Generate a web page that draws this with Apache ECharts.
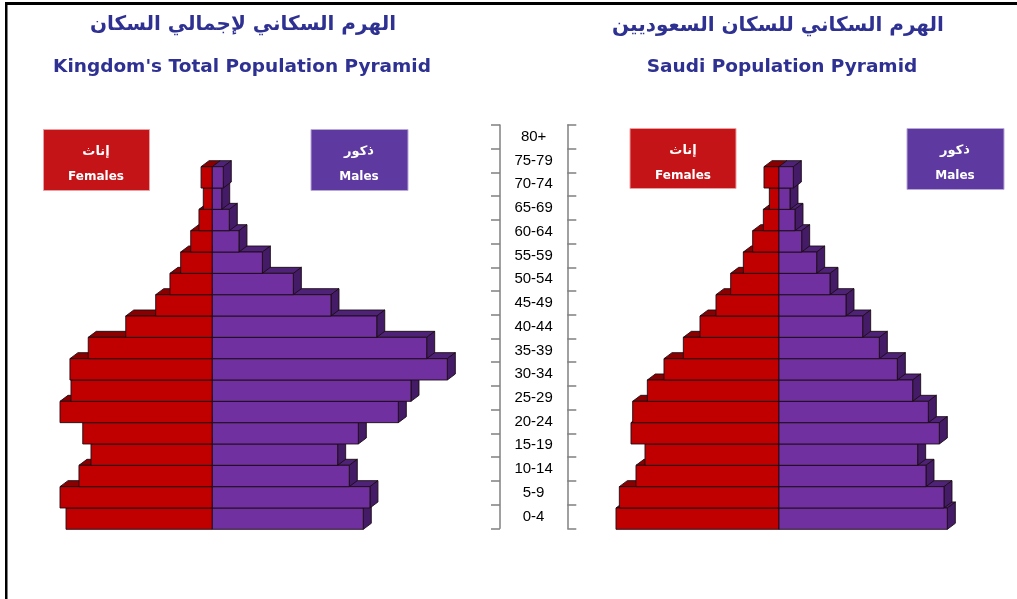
<!DOCTYPE html>
<html>
<head>
<meta charset="utf-8">
<script src="https://cdn.jsdelivr.net/npm/echarts@6/dist/echarts.min.js"></script>
<style>
html,body{margin:0;padding:0;background:#fff;}
#chart{width:1017px;height:599px;}
</style>
</head>
<body>
<div id="chart"></div>
<script>
// Age groups, bottom to top
const ageGroups = ['0-4','5-9','10-14','15-19','20-24','25-29','30-34','35-39','40-44','45-49','50-54','55-59','60-64','65-69','70-74','75-79','80+'];

// Kingdom's total population (thousands, estimated)
const totalFemales = [1119, 1165, 1020, 928, 991, 1165, 1081, 1089, 949, 662, 433, 324, 242, 165, 102, 69, 86];
const totalMales   = [1155, 1206, 1048, 959, 1117, 1423, 1520, 1798, 1640, 1258, 908, 620, 383, 204, 130, 72, 84];

// Saudi population (thousands, estimated)
const saudiFemales = [978, 958, 858, 804, 888, 878, 790, 690, 574, 474, 378, 290, 214, 158, 94, 58, 90];
const saudiMales   = [1010, 990, 882, 832, 962, 896, 802, 710, 602, 502, 402, 306, 226, 136, 96, 66, 86];

const titles = {
  leftAr: 'الهرم السكاني لإجمالي السكان',
  leftEn: "Kingdom's Total Population Pyramid",
  rightAr: 'الهرم السكاني للسكان السعوديين',
  rightEn: 'Saudi Population Pyramid',
  femalesAr: 'إناث', femalesEn: 'Females',
  malesAr: 'ذكور', malesEn: 'Males'
};

const DX = 8, DY = 6;
const C = {
  fFront: '#C00000', fTop: '#8A0000',
  mFront: '#7030A0', mTop: '#4E2377', mSide: '#431B66',
  stroke: '#1c0c14'
};

function renderBar(params, api) {
  const idx = api.value(0);
  const f = api.value(1), m = api.value(2);
  const c0 = api.coord([0, idx]);
  const cf = api.coord([-f, idx]);
  const cm = api.coord([m, idx]);
  const h = api.size([0, 1])[1];
  const top = c0[1] - h / 2, bot = c0[1] + h / 2;
  const x0 = c0[0], xf = cf[0], xm = cm[0];
  const st = (fill) => ({ fill: fill, stroke: C.stroke, lineWidth: 0.9 });
  return {
    type: 'group',
    children: [
      { type: 'polygon', shape: { points: [[xf, top], [xf + DX, top - DY], [x0 + DX, top - DY], [x0, top]] }, style: st(C.fTop) },
      { type: 'polygon', shape: { points: [[x0, top], [x0 + DX, top - DY], [xm + DX, top - DY], [xm, top]] }, style: st(C.mTop) },
      { type: 'polygon', shape: { points: [[xm, top], [xm + DX, top - DY], [xm + DX, bot - DY], [xm, bot]] }, style: st(C.mSide) },
      { type: 'rect', shape: { x: xf, y: top, width: x0 - xf, height: h }, style: st(C.fFront) },
      { type: 'rect', shape: { x: x0, y: top, width: xm - x0, height: h }, style: st(C.mFront) }
    ]
  };
}

const chart = echarts.init(document.getElementById('chart'), null, { renderer: 'canvas' });

function txt(text, cx, cy, size, weight, color, family) {
  return {
    text: text, left: cx, top: cy, textAlign: 'center', textVerticalAlign: 'middle', padding: 0, z: 20,
    textStyle: { fontSize: size, fontWeight: weight, color: color, fontFamily: family }
  };
}

const blue = '#2E3192';
const option = {
  backgroundColor: '#ffffff',
  animation: false,
  title: [
    txt(titles.leftAr, 243, 25, 20, 'bold', blue, 'DejaVu Sans'),
    txt(titles.leftEn, 242, 67, 18.5, 'bold', blue, 'DejaVu Sans'),
    txt(titles.rightAr, 778, 26, 20, 'bold', blue, 'DejaVu Sans'),
    txt(titles.rightEn, 782, 67, 18.5, 'bold', blue, 'DejaVu Sans'),
    txt(titles.femalesAr, 96, 152, 13, 'bold', '#fff', 'DejaVu Sans'),
    txt(titles.femalesEn, 96, 177, 12, 'bold', '#fff', 'DejaVu Sans'),
    txt(titles.malesAr, 359, 152, 13, 'bold', '#fff', 'DejaVu Sans'),
    txt(titles.malesEn, 359, 177, 12, 'bold', '#fff', 'DejaVu Sans'),
    txt(titles.femalesAr, 683, 151, 13, 'bold', '#fff', 'DejaVu Sans'),
    txt(titles.femalesEn, 683, 176, 12, 'bold', '#fff', 'DejaVu Sans'),
    txt(titles.malesAr, 955, 151, 13, 'bold', '#fff', 'DejaVu Sans'),
    txt(titles.malesEn, 955, 176, 12, 'bold', '#fff', 'DejaVu Sans')
  ],
  graphic: [
    { type: 'rect', shape: { x: 5, y: 2, width: 1012, height: 3 }, style: { fill: '#000' }, z: 30 },
    { type: 'rect', shape: { x: 5, y: 2, width: 2.5, height: 597 }, style: { fill: '#000' }, z: 30 },
    { type: 'rect', shape: { x: 43.5, y: 129.5, width: 106, height: 61 }, style: { fill: '#C41418', stroke: '#e8a0a0', lineWidth: 1 }, z: 5 },
    { type: 'rect', shape: { x: 311, y: 129.5, width: 97, height: 61 }, style: { fill: '#5E3AA0', stroke: '#b8a8d8', lineWidth: 1 }, z: 5 },
    { type: 'rect', shape: { x: 630, y: 128.5, width: 106, height: 60 }, style: { fill: '#C41418', stroke: '#e8a0a0', lineWidth: 1 }, z: 5 },
    { type: 'rect', shape: { x: 907, y: 128.5, width: 97, height: 61 }, style: { fill: '#5E3AA0', stroke: '#b8a8d8', lineWidth: 1 }, z: 5 }
  ],
  grid: [
    { left: 3.15, width: 470.59, top: 166.7, height: 362.6 },
    { left: 579, width: 433.33, top: 166.7, height: 362.6 },
    { left: 500, width: 67.3, top: 125, height: 403.3 }
  ],
  xAxis: [
    { gridIndex: 0, type: 'value', min: -1600, max: 2000, show: false },
    { gridIndex: 1, type: 'value', min: -1200, max: 1400, show: false },
    { gridIndex: 2, type: 'value', min: 0, max: 1, show: false }
  ],
  yAxis: [
    { gridIndex: 0, type: 'category', data: ageGroups, show: false },
    { gridIndex: 1, type: 'category', data: ageGroups, show: false },
    {
      gridIndex: 2, type: 'category', data: ageGroups, position: 'left',
      axisLine: { show: true, lineStyle: { color: '#808080', width: 1.5 } },
      axisTick: { show: true, length: 9, lineStyle: { color: '#808080', width: 1.5 } },
      axisLabel: { inside: true, margin: 33.6, align: 'center', interval: 0, fontSize: 15, color: '#000', fontFamily: 'Liberation Sans' }
    },
    {
      gridIndex: 2, type: 'category', data: ageGroups, position: 'right',
      axisLine: { show: true, lineStyle: { color: '#808080', width: 1.5 } },
      axisTick: { show: true, length: 9, lineStyle: { color: '#808080', width: 1.5 } },
      axisLabel: { show: false }
    }
  ],
  series: [
    {
      type: 'custom', xAxisIndex: 0, yAxisIndex: 0, renderItem: renderBar,
      encode: { x: [1, 2], y: 0 },
      data: ageGroups.map((g, i) => [i, totalFemales[i], totalMales[i]])
    },
    {
      type: 'custom', xAxisIndex: 1, yAxisIndex: 1, renderItem: renderBar,
      encode: { x: [1, 2], y: 0 },
      data: ageGroups.map((g, i) => [i, saudiFemales[i], saudiMales[i]])
    }
  ]
};
chart.setOption(option);
</script>
</body>
</html>
